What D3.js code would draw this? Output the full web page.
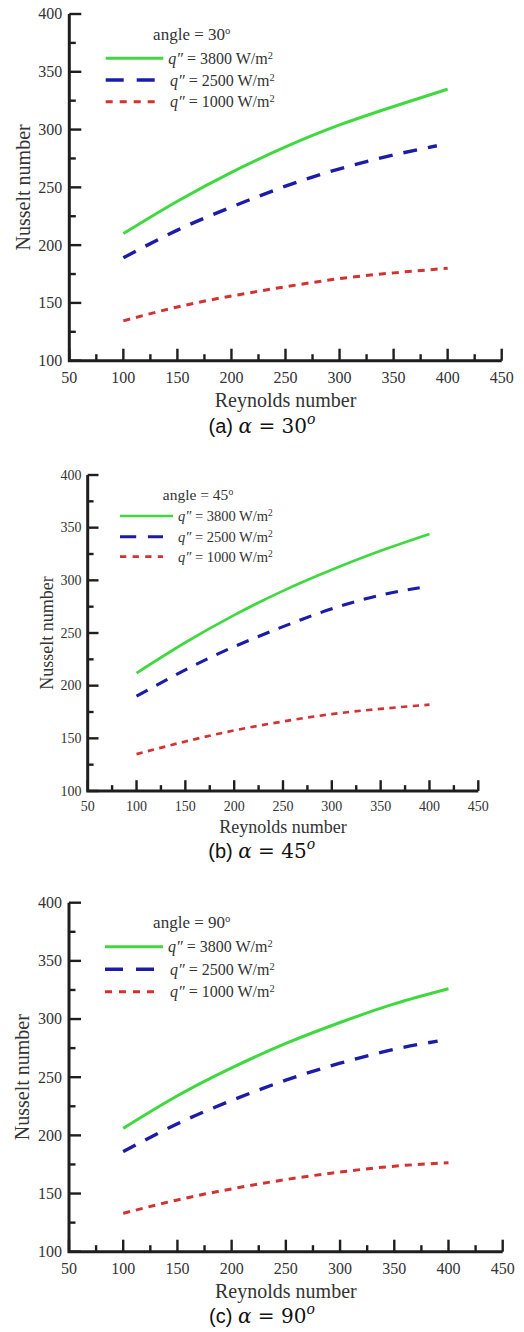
<!DOCTYPE html>
<html>
<head>
<meta charset="utf-8">
<script src="https://cdn.jsdelivr.net/npm/d3@7/dist/d3.min.js"></script>
<style>
  html, body { margin: 0; padding: 0; background: #fff; }
  svg { display: block; }
  .serif { font-family: "Liberation Serif", serif; }
</style>
</head>
<body>
<svg id="fig" width="524" height="1332"></svg>
<script>
// Reynolds numbers sampled along each curve
const reynolds = [100, 150, 200, 250, 300, 350, 400];
const reynoldsDashed = [100, 150, 200, 250, 300, 350, 390];

// Nusselt number, inclination 30°
const nu30_q3800 = [210, 238, 263, 285, 304, 320, 335];
const nu30_q2500 = [189, 213, 233, 251, 266, 278, 286];
const nu30_q1000 = [134.5, 146.5, 156, 164, 171, 176, 180];

// Nusselt number, inclination 45°
const nu45_q3800 = [212, 241, 267, 290, 310, 328, 344];
const nu45_q2500 = [190, 215, 237, 256, 273, 286, 293];
const nu45_q1000 = [135, 147, 157.5, 166, 173, 178, 182];

// Nusselt number, inclination 90°
const nu90_q3800 = [206, 234, 258, 279, 297, 313, 326];
const nu90_q2500 = [186, 210, 230, 247.5, 262, 274, 281];
const nu90_q1000 = [133, 144.5, 154, 162, 168.5, 173.5, 176.5];

// Axis ticks and labels
const xTicks = d3.range(50, 451, 25);
const xTickLabels = [50, 100, 150, 200, 250, 300, 350, 400, 450];
const yTicks = d3.range(100, 401, 25);
const yTickLabels = [100, 150, 200, 250, 300, 350, 400];

// Series labels
const heatFluxes = ["3800", "2500", "1000"];
const angles = ["30", "45", "90"];
const panelLetters = ["a", "b", "c"];

const seriesStyle = [
  { color: "#3fd83f", width: 3, dash: null, legendDash: null, xs: reynolds },
  { color: "#1c1ca8", width: 3.4, dash: "14,11", legendDash: "18,13", xs: reynoldsDashed },
  { color: "#d23232", width: 3, dash: "7,6", legendDash: "7,7", xs: reynolds }
];

const panels = [
  { series: [nu30_q3800, nu30_q2500, nu30_q1000],
    left: 69.3, right: 501.7, top: 14, bottom: 360.7, k: 1,
    tickFont: 16, titleFont: 20, legFont: 16,
    xLabelBase: 382.5, xTitleBase: 406.5, capBase: 433, capX: 262, yTitleX: 22.7,
    legTitle: { x: 191.7, y: 40 }, legRows: [58.3, 80, 101.7],
    legX1: 105.7, legX2: [163.3, 155, 155], legTextX: [168.3, 170, 170] },
  { series: [nu45_q3800, nu45_q2500, nu45_q1000],
    left: 87.7, right: 478.3, top: 475, bottom: 791, k: 0.9,
    tickFont: 14, titleFont: 18, legFont: 14.5,
    xLabelBase: 810.5, xTitleBase: 833, capBase: 858, capX: 261.7, yTitleX: 46.7,
    legTitle: { x: 198, y: 500 }, legRows: [516, 536.7, 556.7],
    legX1: 120, legX2: [173, 163, 163], legTextX: [178, 178, 178] },
  { series: [nu90_q3800, nu90_q2500, nu90_q1000],
    left: 69, right: 502.7, top: 902.7, bottom: 1251.7, k: 1,
    tickFont: 16, titleFont: 20, legFont: 16,
    xLabelBase: 1274, xTitleBase: 1298.3, capBase: 1323, capX: 262, yTitleX: 21.7,
    legTitle: { x: 191.7, y: 928.3 }, legRows: [946.7, 969.3, 991.7],
    legX1: 105, legX2: [163, 155, 155], legTextX: [168, 170, 170] }
];

const svg = d3.select("#fig");
const ink = "#1e1e1e";
const textInk = "#333";

panels.forEach((p, i) => {
  const g = svg.append("g");
  const x = d3.scaleLinear().domain([50, 450]).range([p.left, p.right]);
  const y = d3.scaleLinear().domain([100, 400]).range([p.bottom, p.top]);
  const major = 12 * p.k, minor = 6.5 * p.k;

  // inward ticks on the bottom axis
  g.append("g").selectAll("line").data(xTicks).join("line")
    .attr("x1", d => x(d)).attr("x2", d => x(d))
    .attr("y1", p.bottom)
    .attr("y2", d => p.bottom - (d % 50 === 0 ? major : minor))
    .attr("stroke", ink).attr("stroke-width", 2.4);
  // inward ticks on the left axis
  g.append("g").selectAll("line").data(yTicks).join("line")
    .attr("y1", d => y(d)).attr("y2", d => y(d))
    .attr("x1", p.left)
    .attr("x2", d => p.left + (d % 50 === 0 ? major : minor))
    .attr("stroke", ink).attr("stroke-width", 2.4);
  // axis lines
  g.append("path")
    .attr("d", `M${x(50)},${y(400)}V${y(100)}H${x(450)}`)
    .attr("fill", "none").attr("stroke", ink).attr("stroke-width", 3);

  // tick labels
  g.append("g").selectAll("text").data(xTickLabels).join("text")
    .attr("class", "serif")
    .attr("x", d => x(d)).attr("y", p.xLabelBase)
    .attr("text-anchor", "middle")
    .attr("font-size", p.tickFont).attr("fill", textInk)
    .text(d => d);
  g.append("g").selectAll("text").data(yTickLabels).join("text")
    .attr("class", "serif")
    .attr("x", p.left - 7 * p.k).attr("y", d => y(d))
    .attr("dy", "0.34em")
    .attr("text-anchor", "end")
    .attr("font-size", p.tickFont).attr("fill", textInk)
    .text(d => d);

  // axis titles
  g.append("text")
    .attr("class", "serif")
    .attr("x", (p.left + p.right) / 2).attr("y", p.xTitleBase)
    .attr("text-anchor", "middle")
    .attr("font-size", p.titleFont).attr("fill", textInk)
    .text("Reynolds number");
  g.append("text")
    .attr("class", "serif")
    .attr("transform", `translate(${p.yTitleX},${(p.top + p.bottom) / 2}) rotate(-90)`)
    .attr("text-anchor", "middle").attr("dy", "0.35em")
    .attr("font-size", p.titleFont).attr("fill", textInk)
    .text("Nusselt number");

  // curves
  p.series.forEach((vals, s) => {
    const st = seriesStyle[s];
    const pts = vals.map((v, j) => [st.xs[j], v]);
    const line = d3.line().x(d => x(d[0])).y(d => y(d[1])).curve(d3.curveNatural);
    g.append("path")
      .attr("d", line(pts))
      .attr("fill", "none")
      .attr("stroke", st.color)
      .attr("stroke-width", st.width * p.k)
      .attr("stroke-dasharray", st.dash ? st.dash.split(",").map(v => v * p.k).join(",") : null);
  });

  // legend
  g.append("text")
    .attr("class", "serif")
    .attr("x", p.legTitle.x).attr("y", p.legTitle.y)
    .attr("text-anchor", "middle")
    .attr("font-size", p.legFont + 1).attr("fill", textInk)
    .text(`angle = ${angles[i]}`)
    .append("tspan").attr("dy", -6 * p.k).attr("font-size", (p.legFont + 1) * 0.62).text("o");

  heatFluxes.forEach((q, s) => {
    const st = seriesStyle[s];
    const ry = p.legRows[s];
    g.append("line")
      .attr("x1", p.legX1).attr("x2", p.legX2[s])
      .attr("y1", ry).attr("y2", ry)
      .attr("stroke", st.color).attr("stroke-width", st.width * p.k)
      .attr("stroke-dasharray", st.legendDash ? st.legendDash.split(",").map(v => v * p.k).join(",") : null);
    const t = g.append("text")
      .attr("class", "serif")
      .attr("x", p.legTextX[s]).attr("y", ry + 5.5 * p.k)
      .attr("font-size", p.legFont).attr("fill", textInk);
    t.append("tspan").attr("font-style", "italic").text("q\u2033");
    t.append("tspan").text(` = ${q} W/m`);
    t.append("tspan").attr("dy", -5 * p.k).attr("font-size", p.legFont * 0.65).text("2");
  });

  // sub-figure caption
  const cap = g.append("text")
    .attr("x", p.capX).attr("y", p.capBase)
    .attr("text-anchor", "middle")
    .attr("font-size", 20).attr("fill", "#111");
  cap.append("tspan").attr("font-family", "Liberation Sans, Arial, sans-serif").text(`(${panelLetters[i]}) `);
  cap.append("tspan").attr("font-family", "DejaVu Serif, serif").attr("font-style", "italic").text("\u03b1");
  cap.append("tspan").attr("font-family", "DejaVu Serif, serif").text(" =  " + angles[i]);
  cap.append("tspan").attr("font-family", "DejaVu Serif, serif").attr("font-style", "italic")
    .attr("font-size", 14).attr("dy", -9).text("o");
});
</script>
</body>
</html>
